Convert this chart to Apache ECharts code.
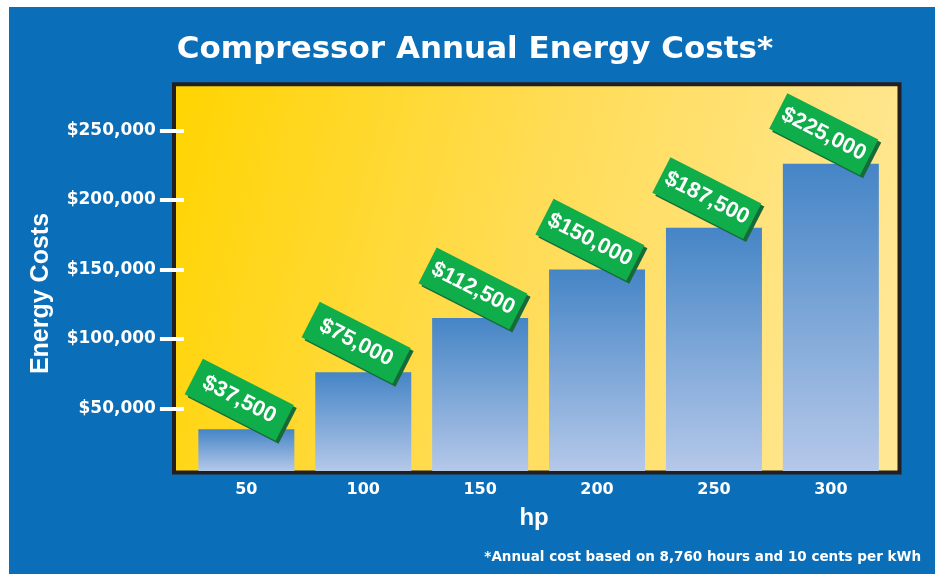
<!DOCTYPE html>
<html>
<head>
<meta charset="utf-8">
<title>Compressor Annual Energy Costs</title>
<script src="https://cdn.jsdelivr.net/npm/echarts@6/dist/echarts.min.js"></script>
<style>
    html, body { margin: 0; padding: 0; background: #fff; }
    #chart { width: 935px; height: 574px; }
</style>
</head>
<body>
<div id="chart"></div>
<script>
    // hp categories on the x axis
    var hpLabels = ['50', '100', '150', '200', '250', '300'];
    // bar heights as drawn in the picture
    var barValues = [35000, 76000, 115000, 150000, 180000, 226000];
    // values printed on the green tags
    var tagValues = [37500, 75000, 112500, 150000, 187500, 225000];
    // y axis tick values
    var costTicks = [50000, 100000, 150000, 200000, 250000];

    var white = '#ffffff';
    var bodyFont = '"Liberation Sans", Arial, sans-serif';
    var wideFont = '"DejaVu Sans", sans-serif';

    function money(v) {
        return '$' + v.toLocaleString('en-US');
    }

    var myChart = echarts.init(document.getElementById('chart'));
    myChart.setOption({
        backgroundColor: '#ffffff',
        animation: false,
        title: [
            {
                text: 'Compressor Annual Energy Costs*',
                left: 475,
                top: 34,
                textAlign: 'center',
                padding: 0,
                textStyle: {
                    color: white,
                    fontFamily: wideFont,
                    fontWeight: 'bold',
                    fontSize: 31
                }
            },
            {
                text: '*Annual cost based on 8,760 hours and 10 cents per kWh',
                right: 14,
                top: 550,
                padding: 0,
                textStyle: {
                    color: white,
                    fontFamily: wideFont,
                    fontWeight: 'bold',
                    fontSize: 13.5
                }
            }
        ],
        graphic: [
            {
                type: 'rect',
                z: -10,
                shape: { x: 9, y: 7, width: 926, height: 567 },
                style: { fill: '#0a6eb9' }
            },
            {
                type: 'rect',
                z: -5,
                shape: { x: 174, y: 84.2, width: 725.5, height: 388.2 },
                style: {
                    fill: new echarts.graphic.LinearGradient(0, 0, 1, 0.5, [
                        { offset: 0, color: '#ffd400' },
                        { offset: 0.5, color: '#ffdc55' },
                        { offset: 1, color: '#ffe794' }
                    ]),
                    stroke: '#231f20',
                    lineWidth: 4
                }
            },
            {
                type: 'text',
                x: 41,
                y: 293.5,
                rotation: Math.PI / 2,
                style: {
                    text: 'Energy Costs',
                    fill: white,
                    font: 'bold 25px "Liberation Sans", Arial, sans-serif',
                    textAlign: 'center',
                    textVerticalAlign: 'middle'
                }
            }
        ],
        grid: {
            left: 187.9,
            right: 45.7,
            top: 86,
            bottom: 103
        },
        xAxis: {
            type: 'category',
            data: hpLabels,
            axisLine: { show: false },
            axisTick: { show: false },
            axisLabel: {
                color: white,
                fontFamily: wideFont,
                fontWeight: 'bold',
                fontSize: 16,
                margin: 11
            },
            name: 'hp',
            nameLocation: 'middle',
            nameGap: 35,
            nameTextStyle: {
                color: white,
                fontFamily: bodyFont,
                fontWeight: 'bold',
                fontSize: 24,
                padding: [0, 9, 0, 0]
            }
        },
        yAxis: {
            type: 'value',
            min: 5000,
            max: 282000,
            offset: 4,
            axisLine: { show: false },
            splitLine: { show: false },
            axisTick: {
                show: true,
                customValues: costTicks,
                length: 24,
                lineStyle: { color: white, width: 4 }
            },
            axisLabel: {
                customValues: costTicks,
                color: white,
                fontFamily: wideFont,
                fontWeight: 'bold',
                fontSize: 17,
                margin: 28,
                formatter: function (v) { return money(v); }
            }
        },
        series: [
            {
                type: 'bar',
                data: barValues,
                barWidth: 96,
                itemStyle: {
                    color: new echarts.graphic.LinearGradient(0, 0, 0, 1, [
                        { offset: 0, color: '#4585c6' },
                        { offset: 1, color: '#b5c8e9' }
                    ])
                },
                label: {
                    show: true,
                    position: 'top',
                    distance: 26,
                    offset: [-8, 0],
                    rotate: -27,
                    align: 'center',
                    verticalAlign: 'middle',
                    width: 86,
                    height: 22,
                    lineHeight: 22,
                    padding: [9, 8],
                    backgroundColor: '#10ad4b',
                    shadowColor: '#176a38',
                    shadowOffsetX: 3,
                    shadowOffsetY: 3,
                    color: white,
                    fontFamily: bodyFont,
                    fontWeight: 'bold',
                    fontSize: 22,
                    formatter: function (p) { return money(tagValues[p.dataIndex]); }
                }
            }
        ]
    });
</script>
</body>
</html>
